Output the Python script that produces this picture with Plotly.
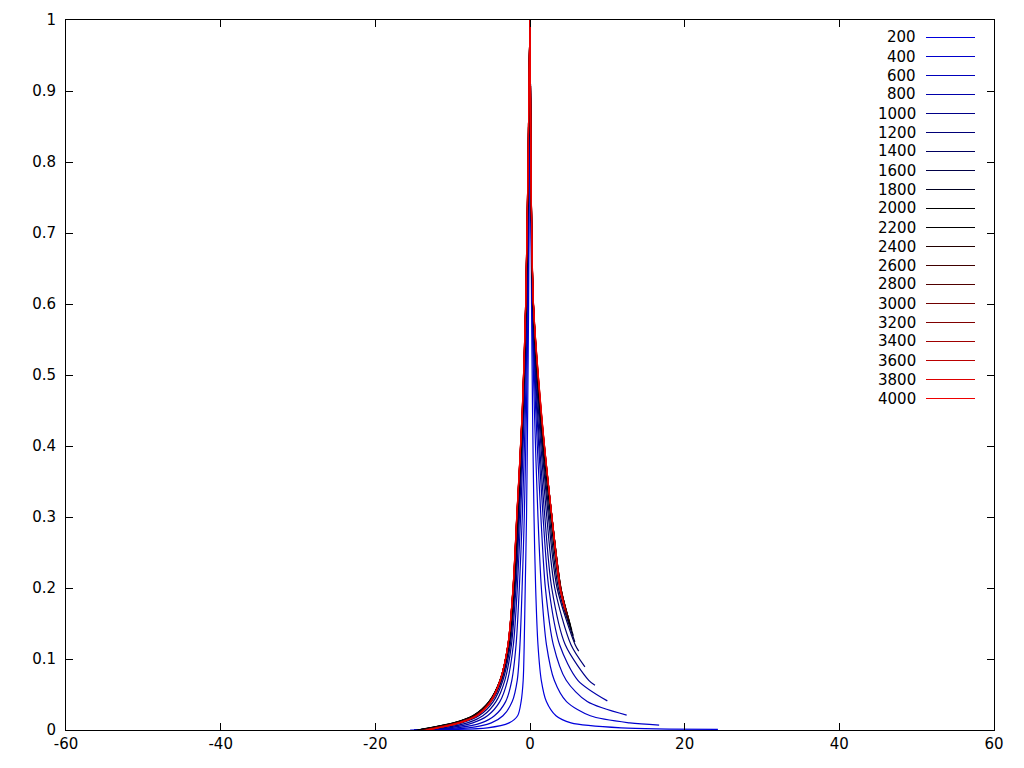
import plotly.graph_objects as go

# ---- data ----
series = [200, 400, 600, 800, 1000, 1200, 1400, 1600, 1800, 2000,
          2200, 2400, 2600, 2800, 3000, 3200, 3400, 3600, 3800, 4000]

colors = ["#0000dd", "#0000cc", "#0000bb", "#0000aa", "#000088", "#000077",
          "#000060", "#000048", "#000020", "#000000", "#000000", "#200000",
          "#400000", "#500000", "#700000", "#800000", "#a00000", "#bb0000",
          "#dd0000", "#ee0000"]

x_tick_values = [-60, -40, -20, 0, 20, 40, 60]
x_tick_labels = ["-60", "-40", "-20", "0", "20", "40", "60"]
y_tick_values = [0, 0.1, 0.2, 0.3, 0.4, 0.5, 0.6, 0.7, 0.8, 0.9, 1]
y_tick_labels = ["0", "0.1", "0.2", "0.3", "0.4", "0.5", "0.6", "0.7", "0.8", "0.9", "1"]

# y levels at which the left / right branch x-positions were read
levels = [0.8, 0.6, 0.45, 0.3, 0.2, 0.12, 0.07, 0.04, 0.02, 0.01, 0.003]

peak_x = 0.0
peak_y = 1.0

left_start = [-15.5, -15.0, -15.0, -15.0, -14.8, -14.7, -14.6, -14.6, -14.5, -14.5,
              -14.4, -14.2, -14.0, -13.8, -13.7, -13.6, -13.5, -13.5, -13.4, -13.4]

left_200 = [-0.08, -0.18, -0.3, -0.45, -0.62, -0.75, -0.88, -1.15, -1.6, -2.7, -5.5]
left_400 = [-0.1, -0.26, -0.46, -0.74, -1.02, -1.3, -1.65, -2.3, -3.5, -5.0, -8.0]
left_600 = [-0.14, -0.34, -0.6, -1.0, -1.38, -1.8, -2.35, -3.15, -4.6, -6.3, -9.5]
left_800 = [-0.17, -0.4, -0.74, -1.22, -1.64, -2.15, -2.9, -3.9, -5.5, -7.4, -10.5]
left_1000 = [-0.19, -0.45, -0.82, -1.37, -1.82, -2.4, -3.25, -4.4, -6.1, -8.1, -11.2]
left_1200 = [-0.2, -0.48, -0.87, -1.47, -1.93, -2.55, -3.5, -4.75, -6.6, -8.8, -11.9]
left_1400 = [-0.21, -0.5, -0.9, -1.53, -2.0, -2.65, -3.65, -5.0, -6.95, -9.3, -12.4]
left_1600 = [-0.22, -0.51, -0.92, -1.58, -2.05, -2.72, -3.75, -5.15, -7.2, -9.6, -12.8]
left_1800 = [-0.23, -0.52, -0.94, -1.62, -2.09, -2.76, -3.82, -5.25, -7.35, -9.8, -13.0]
left_2000 = [-0.23, -0.53, -0.95, -1.64, -2.12, -2.79, -3.85, -5.3, -7.4, -9.9, -13.1]
left_2200 = [-0.24, -0.54, -0.96, -1.66, -2.14, -2.81, -3.87, -5.3, -7.35, -9.8, -12.9]
left_2400 = [-0.24, -0.54, -0.97, -1.67, -2.15, -2.82, -3.87, -5.25, -7.25, -9.65, -12.7]
left_2600 = [-0.24, -0.55, -0.97, -1.68, -2.16, -2.83, -3.87, -5.2, -7.15, -9.5, -12.5]
left_2800 = [-0.25, -0.55, -0.98, -1.69, -2.17, -2.84, -3.86, -5.17, -7.05, -9.4, -12.35]
left_3000 = [-0.25, -0.55, -0.98, -1.7, -2.18, -2.84, -3.86, -5.14, -7.0, -9.3, -12.2]
left_3200 = [-0.25, -0.56, -0.99, -1.7, -2.18, -2.85, -3.85, -5.12, -6.95, -9.25, -12.1]
left_3400 = [-0.25, -0.56, -0.99, -1.71, -2.19, -2.85, -3.85, -5.1, -6.92, -9.2, -12.05]
left_3600 = [-0.25, -0.56, -1.0, -1.71, -2.19, -2.85, -3.84, -5.09, -6.9, -9.15, -12.0]
left_3800 = [-0.25, -0.56, -1.0, -1.72, -2.2, -2.85, -3.84, -5.08, -6.88, -9.12, -11.95]
left_4000 = [-0.25, -0.56, -1.0, -1.72, -2.2, -2.85, -3.84, -5.07, -6.86, -9.1, -11.9]

right_200 = [0.1, 0.2, 0.33, 0.52, 0.73, 1.03, 1.46, 2.12, 3.36, 5.3, 11.8]
right_400 = [0.1, 0.25, 0.57, 1.03, 1.47, 2.13, 3.14, 4.72, 7.8, 12.9]
right_600 = [0.11, 0.29, 0.74, 1.41, 1.99, 3.02, 4.68, 7.4]
right_800 = [0.11, 0.32, 0.87, 1.69, 2.43, 3.83, 6.19]
right_1000 = [0.11, 0.34, 0.97, 1.92, 2.81, 4.56, 7.6]
right_1200 = [0.11, 0.36, 1.09, 2.17, 3.2, 5.3]
right_1400 = [0.12, 0.38, 1.19, 2.38, 3.5, 5.84]
right_1600 = [0.12, 0.4, 1.25, 2.52, 3.67]
right_1800 = [0.12, 0.41, 1.31, 2.66, 3.85]
right_2000 = [0.12, 0.42, 1.35, 2.75, 3.93]
right_2200 = [0.12, 0.43, 1.37, 2.8, 3.97]
right_2400 = [0.12, 0.43, 1.38, 2.82, 3.99]
right_2600 = [0.12, 0.43, 1.39, 2.83, 4.0]
right_2800 = [0.12, 0.44, 1.4, 2.84, 3.99]
right_3000 = [0.12, 0.44, 1.41, 2.84, 3.97]
right_3200 = [0.12, 0.44, 1.42, 2.84, 3.95]
right_3400 = [0.12, 0.44, 1.43, 2.84, 3.93]
right_3600 = [0.12, 0.45, 1.44, 2.83, 3.91]
right_3800 = [0.12, 0.45, 1.45, 2.83, 3.89]
right_4000 = [0.12, 0.45, 1.46, 2.82, 3.87]

tail_end_x = [24.3, 16.7, 12.5, 10.0, 8.4, 7.1, 6.3, 5.8, 5.6, 5.4,
              5.25, 5.1, 5.0, 4.9, 4.8, 4.72, 4.65, 4.58, 4.52, 4.46]
tail_end_y = [0.001, 0.007, 0.021, 0.041, 0.063, 0.089, 0.111, 0.124, 0.133, 0.141,
              0.147, 0.152, 0.156, 0.159, 0.162, 0.164, 0.166, 0.168, 0.170, 0.172]

left_branches = [left_200, left_400, left_600, left_800, left_1000, left_1200, left_1400,
                 left_1600, left_1800, left_2000, left_2200, left_2400, left_2600,
                 left_2800, left_3000, left_3200, left_3400, left_3600, left_3800, left_4000]
right_branches = [right_200, right_400, right_600, right_800, right_1000, right_1200,
                  right_1400, right_1600, right_1800, right_2000, right_2200, right_2400,
                  right_2600, right_2800, right_3000, right_3200, right_3400, right_3600,
                  right_3800, right_4000]

# ---- figure geometry (page body has an 8px margin) ----
FIG_W, FIG_H = 1008, 752
M_L, M_T = 58, 12
M_R = FIG_W - 986
M_B = FIG_H - 722

fig = go.Figure()
for i, name in enumerate(series):
    lx = left_branches[i]
    rx = right_branches[i]
    xs = [left_start[i]] + lx[::-1] + [peak_x] + rx + [tail_end_x[i]]
    ys = [0.0] + levels[::-1] + [peak_y] + levels[:len(rx)] + [tail_end_y[i]]
    fig.add_trace(go.Scatter(
        x=xs, y=ys, mode="lines", name=str(name),
        line=dict(color=colors[i], width=1.2, shape="spline", smoothing=0.8),
        showlegend=False, hoverinfo="skip"))

# gnuplot-style key: label on the left, line sample on the right
plot_w = FIG_W - M_L - M_R
plot_h = FIG_H - M_T - M_B
def px_x(p):  # screenshot pixel -> paper
    return (p - 8 - M_L) / plot_w
def px_y(p):
    return (FIG_H - M_B - (p - 8)) / plot_h

annotations = []
shapes = []
for i, name in enumerate(series):
    row = 37 + 19 * i
    annotations.append(dict(x=px_x(918), y=px_y(row + 0.5), xref="paper", yref="paper",
                            text=str(name), showarrow=False, xanchor="right",
                            yanchor="middle", font=dict(size=15, color="black",
                                                        family="DejaVu Sans")))
    shapes.append(dict(type="line", xref="paper", yref="paper",
                       x0=px_x(926), x1=px_x(975), y0=px_y(row + 0.5), y1=px_y(row + 0.5),
                       line=dict(color=colors[i], width=1)))

axis_common = dict(showgrid=False, zeroline=False, showline=True, linecolor="black",
                   linewidth=1, mirror="ticks", ticks="inside", ticklen=7,
                   tickcolor="black", tickwidth=1,
                   tickfont=dict(family="DejaVu Sans", size=15, color="black"))

fig.update_layout(
    width=FIG_W, height=FIG_H,
    margin=dict(l=M_L, r=M_R, t=M_T, b=M_B, autoexpand=False),
    plot_bgcolor="white", paper_bgcolor="white",
    showlegend=False,
    annotations=annotations, shapes=shapes,
    xaxis=dict(range=[-60, 60], tickmode="array",
               tickvals=x_tick_values, ticktext=x_tick_labels, **axis_common),
    yaxis=dict(range=[0, 1], tickmode="array",
               tickvals=y_tick_values, ticktext=y_tick_labels,
               ticklabelstandoff=6, **axis_common),
)

fig.write_html("out.html")
